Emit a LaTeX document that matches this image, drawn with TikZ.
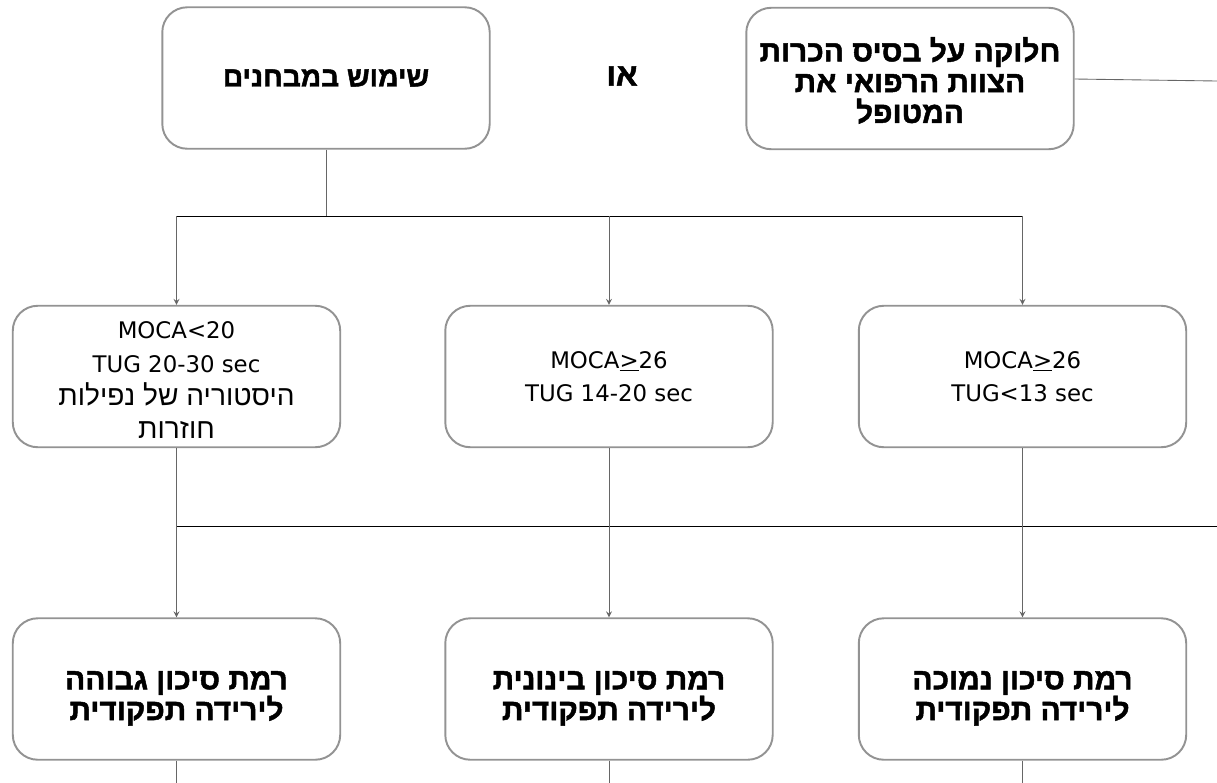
\documentclass[tikz,border=0pt]{standalone}
\usepackage{fontspec}
\setmainfont{DejaVu Sans}
\newfontfamily\hebfont[Script=Hebrew]{Liberation Sans}
\newfontfamily\hebbold[Script=Hebrew, FakeBold=1.6]{Liberation Sans Bold}
\TeXXeTstate=1
\usetikzlibrary{arrows}
\usetikzlibrary{positioning, calc}

\newcommand{\heb}[1]{\beginR #1\endR}
\newcommand{\lift}{\rule{0pt}{21pt}}

\begin{document}
\begin{tikzpicture}[>=stealth, x=0.02cm, y=-0.02cm,
    box/.style={draw=gray!85, line width=1.1pt, rounded corners=0.5cm,
      minimum width=6.55cm, minimum height=2.83cm, align=center, inner sep=2pt},
    heading/.style={font=\hebbold\fontsize{17}{17.5}\selectfont},
    latin/.style={font=\fontsize{13}{19}\selectfont},
    link/.style={draw=black!60, line width=0.5pt},
    bar/.style={draw=black, line width=0.5pt}]
      \useasboundingbox (0,0) rectangle (1217,782);

      % top row
      \node[box, heading, font=\hebbold\fontsize{16}{18}\selectfont] (tests) at (326,78) {\heb{שימוש במבחנים}};
      \node[box, heading] (team) at (910,78.5)
        {\rule{0pt}{16pt}\heb{חלוקה על בסיס הכרות}\\ \heb{הצוות הרפואי את}\\ \heb{המטופל}};
      \node[font=\hebbold\fontsize{18}{20}\selectfont] (or) at (622,76) {\heb{או}};

      % criteria
      \node[box, latin] (midHigh) at (176.5,376.5)
        {\rule{0pt}{14pt}MOCA<20\\ TUG 20-30 sec\\
         {\hebfont\fontsize{16}{18.5}\selectfont\heb{היסטוריה של נפילות}}\\
         {\hebfont\fontsize{16}{18.5}\selectfont\heb{חוזרות}}};
      \node[box, latin] (midMed) at (609,376.5) {MOCA\underline{>}26\\ TUG 14-20 sec};
      \node[box, latin] (midLow) at (1022.5,376.5) {MOCA\underline{>}26\\ TUG<13 sec};

      % risk levels
      \node[box, heading] (riskHigh) at (176.5,689) {\lift\heb{רמת סיכון גבוהה}\\ \heb{לירידה תפקודית}};
      \node[box, heading] (riskMed) at (609,689) {\lift\heb{רמת סיכון בינונית}\\ \heb{לירידה תפקודית}};
      \node[box, heading] (riskLow) at (1022.5,689) {\lift\heb{רמת סיכון נמוכה}\\ \heb{לירידה תפקודית}};

      \coordinate (split) at (326,216);
      \coordinate (bus) at (1217,526);
      \coordinate (teamEnd) at (1217,81);

      \draw[link] (tests) -- (split);
      \draw[bar] (midHigh.north |- split) -- (midLow.north |- split);
      \foreach \n in {midHigh, midMed, midLow}
        \draw[link, ->] (\n.north |- split) -- (\n.north);

      \draw[bar] (midHigh.south |- bus) -- (bus);
      \draw[link, ->] (midHigh) -- (riskHigh);
      \draw[link, ->] (midMed) -- (riskMed);
      \draw[link, ->] (midLow) -- (riskLow);

      \foreach \n in {riskHigh, riskMed, riskLow}
        \draw[link] (\n.south) -- ($(\n.south)+(0,30)$);

      \draw[link] (team.east |- 0,79) -- (teamEnd);
\end{tikzpicture}
\end{document}
